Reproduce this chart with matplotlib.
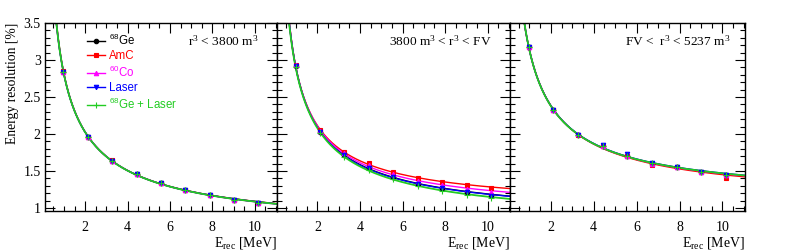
import numpy as np
import matplotlib
matplotlib.use("Agg")
import matplotlib.pyplot as plt
from matplotlib.ticker import MultipleLocator
from matplotlib.lines import Line2D

# ---------------- data ----------------
energies = [0.97, 2.12, 3.27, 4.42, 5.57, 6.72, 7.87, 9.02, 10.17]

series_names = ["$\\mathregular{^{68}}$Ge", "AmC", "$\\mathregular{^{60}}$Co", "Laser",
                "$\\mathregular{^{68}}$Ge + Laser"]

panel_titles = ["r$\\mathregular{^3}$ < 3800 m$\\mathregular{^3}$",
                "3800 m$\\mathregular{^3}$ < r$\\mathregular{^3}$ < FV",
                "FV <  r$\\mathregular{^3}$ < 5237 m$\\mathregular{^3}$"]

# panel 1: r^3 < 3800 m^3
p1_ge = [2.84, 1.96, 1.64, 1.46, 1.335, 1.243, 1.175, 1.112, 1.067]
p1_amc = [2.85, 1.96, 1.645, 1.46, 1.34, 1.245, 1.176, 1.114, 1.068]
p1_co = [2.84, 1.965, 1.64, 1.455, 1.335, 1.24, 1.174, 1.112, 1.066]
p1_laser = [2.84, 1.96, 1.64, 1.46, 1.335, 1.243, 1.176, 1.113, 1.067]
p1_gelaser = [2.84, 1.96, 1.64, 1.458, 1.334, 1.242, 1.174, 1.112, 1.066]

# panel 2: 3800 m^3 < r^3 < FV
p2_ge = [2.92, 2.03, 1.72, 1.55, 1.42, 1.33, 1.27, 1.215, 1.17]
p2_amc = [2.93, 2.05, 1.76, 1.61, 1.49, 1.41, 1.35, 1.31, 1.27]
p2_co = [2.93, 2.04, 1.74, 1.58, 1.455, 1.37, 1.31, 1.26, 1.22]
p2_laser = [2.92, 2.025, 1.71, 1.54, 1.415, 1.33, 1.265, 1.21, 1.168]
p2_gelaser = [2.91, 2.02, 1.69, 1.52, 1.39, 1.30, 1.235, 1.18, 1.14]

# panel 3: FV < r^3 < 5237 m^3
p3_ge = [3.18, 2.32, 1.99, 1.835, 1.705, 1.60, 1.555, 1.49, 1.44]
p3_amc = [3.18, 2.32, 1.99, 1.835, 1.70, 1.585, 1.55, 1.49, 1.405]
p3_co = [3.18, 2.32, 1.995, 1.835, 1.705, 1.60, 1.555, 1.49, 1.44]
p3_laser = [3.18, 2.32, 1.99, 1.845, 1.73, 1.605, 1.555, 1.49, 1.44]
p3_gelaser = [3.18, 2.32, 1.99, 1.835, 1.705, 1.605, 1.555, 1.49, 1.45]

panels = [
    [p1_ge, p1_amc, p1_co, p1_laser, p1_gelaser],
    [p2_ge, p2_amc, p2_co, p2_laser, p2_gelaser],
    [p3_ge, p3_amc, p3_co, p3_laser, p3_gelaser],
]

# ---------------- styles ----------------
colors = ["black", "#ff0000", "#ff00ff", "#0000ff", "#22cc22"]
markers = ["o", "s", "^", "v", "+"]
serif = ["Liberation Serif", "DejaVu Serif"]
sans = ["Liberation Sans", "DejaVu Sans"]

plt.rcParams["font.family"] = serif
plt.rcParams["mathtext.default"] = "regular"

fig = plt.figure(figsize=(7.89, 2.52), dpi=100)

px = 1 / 789.0
py = 1 / 252.0
lefts = [45, 277, 510]
rights = [277, 510, 745]
top, bottom = 23, 211

E = np.asarray(energies)
E_fine = np.linspace(0.3, 11.2, 600)


def fit_curve(vals):
    v = np.asarray(vals) ** 2
    A = np.vstack([1 / E, np.ones_like(E), 1 / E ** 2]).T
    coef, *_ = np.linalg.lstsq(A, v, rcond=None)
    s2 = coef[0] / E_fine + coef[1] + coef[2] / E_fine ** 2
    return np.sqrt(np.clip(s2, 0, None))


axes = []
for i in range(3):
    ax = fig.add_axes([lefts[i] * px, 1 - bottom * py,
                       (rights[i] - lefts[i]) * px, (bottom - top) * py])
    axes.append(ax)
    for k, vals in enumerate(panels[i]):
        lw = 1.3 if k == 4 else 1.0
        ax.plot(E_fine, fit_curve(vals), color=colors[k], lw=lw, zorder=2 + k * 0.1)
        ax.plot(energies, vals, linestyle="none", marker=markers[k],
                color=colors[k], markersize=3.2 if k != 4 else 4,
                markeredgewidth=0.8, zorder=3 + k * 0.1)
    ax.set_xlim(0.1, 11.05)
    ax.set_ylim(0.96, 3.5)
    ax.xaxis.set_major_locator(MultipleLocator(2))
    ax.xaxis.set_minor_locator(MultipleLocator(0.5))
    ax.yaxis.set_major_locator(MultipleLocator(0.5))
    ax.yaxis.set_minor_locator(MultipleLocator(0.1))
    ax.tick_params(which="both", direction="in", top=True, right=True,
                   labelsize=10, width=0.8, colors="black")
    ax.tick_params(which="major", length=7)
    ax.tick_params(which="minor", length=3.5)
    ax.tick_params(axis="x", which="major", pad=7)
    ax.tick_params(axis="y", which="major", pad=3)
    for s in ax.spines.values():
        s.set_linewidth(1.0)
    if i > 0:
        ax.tick_params(labelleft=False)
    ax.set_xlabel("E$_{rec}$ [MeV]", loc="right", fontsize=10, labelpad=1)
    ax.text([0.92, 0.92, 0.936][i], 0.905, panel_titles[i], transform=ax.transAxes,
            ha="right", va="center", fontsize=9.6)

axes[0].set_ylabel("Energy resolution [%]", loc="top", fontsize=9.8, labelpad=3)
axes[0].yaxis.set_major_formatter(matplotlib.ticker.FuncFormatter(
    lambda v, p: ("%g" % v)))

handles = [Line2D([], [], color=colors[k], marker=markers[k], lw=1.0,
                  markersize=3.2 if k != 4 else 4, markeredgewidth=0.8)
           for k in range(5)]
leg = axes[0].legend(handles, series_names, loc="upper left",
                     bbox_to_anchor=(0.15, 0.985), frameon=False,
                     prop={"family": sans, "size": 8.3}, handlelength=1.6,
                     handletextpad=0.3, labelspacing=0.2, borderaxespad=0.2)
for t, c in zip(leg.get_texts(), colors):
    t.set_color(c)

fig.savefig("out.png", dpi=100)
